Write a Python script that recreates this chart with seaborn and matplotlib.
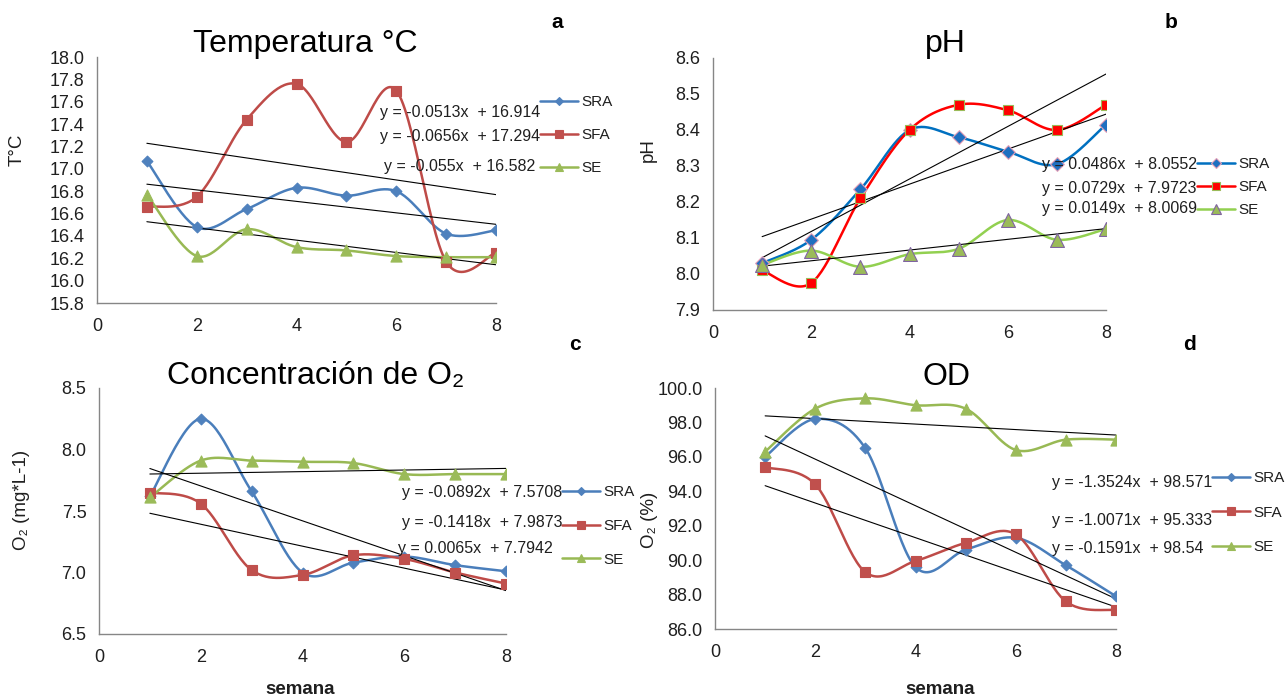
import numpy as np
import matplotlib
matplotlib.use("Agg")
import matplotlib.pyplot as plt
from matplotlib.lines import Line2D
from matplotlib.ticker import FormatStrFormatter
import seaborn as sns

# ---------------- data ----------------
semana = [1, 2, 3, 4, 5, 6, 7, 8]
series_names = ["SRA", "SFA", "SE"]

# Temperatura (°C)
temp_sra = [17.07, 16.48, 16.64, 16.83, 16.76, 16.80, 16.42, 16.45]
temp_sfa = [16.66, 16.75, 17.44, 17.76, 17.24, 17.70, 16.17, 16.25]
temp_se = [16.77, 16.22, 16.46, 16.30, 16.27, 16.22, 16.21, 16.21]
temp_slopes = [-0.0513, -0.0656, -0.055]
temp_intercepts = [16.914, 17.294, 16.582]

# pH
ph_sra = [8.03, 8.095, 8.235, 8.40, 8.38, 8.34, 8.305, 8.415]
ph_sfa = [8.01, 7.975, 8.21, 8.40, 8.47, 8.455, 8.40, 8.47]
ph_se = [8.025, 8.065, 8.02, 8.055, 8.07, 8.15, 8.095, 8.125]
ph_slopes = [0.0486, 0.0729, 0.0149]
ph_intercepts = [8.0552, 7.9723, 8.0069]

# Concentración de O2 (mg/L)
o2_sra = [7.62, 8.25, 7.66, 7.00, 7.08, 7.13, 7.06, 7.01]
o2_sfa = [7.65, 7.56, 7.02, 6.98, 7.14, 7.11, 7.00, 6.91]
o2_se = [7.61, 7.91, 7.91, 7.90, 7.89, 7.80, 7.80, 7.80]
o2_slopes = [-0.0892, -0.1418, 0.0065]
o2_intercepts = [7.5708, 7.9873, 7.7942]

# OD (%)
od_sra = [96.0, 98.2, 96.5, 89.6, 90.6, 91.3, 89.7, 87.9]
od_sfa = [95.4, 94.4, 89.3, 89.95, 91.0, 91.5, 87.6, 87.1]
od_se = [96.3, 98.8, 99.4, 99.0, 98.8, 96.4, 97.0, 97.0]
od_slopes = [-1.3524, -1.0071, -0.1591]
od_intercepts = [98.571, 95.333, 98.54]

# ---------------- style ----------------
sns.set_theme(style="white")
plt.rcParams["font.family"] = ["Liberation Sans", "DejaVu Sans"]

W, H = 1285, 696
TEXT = "#1f1f1f"
AXIS = "#868686"


def fx(px):
    return px / W


def fy(py):
    return 1 - py / H


def smooth(x, y, n=30):
    """Bezier smoothing through the points (Catmull-Rom control points)."""
    p = np.column_stack([x, y]).astype(float)
    k = len(p)
    t = np.linspace(0, 1, n)[:, None]
    segs = []
    for i in range(k - 1):
        p0 = p[max(i - 1, 0)]
        p1 = p[i]
        p2 = p[i + 1]
        p3 = p[min(i + 2, k - 1)]
        c1 = p1 + (p2 - p0) / 6.0
        c2 = p2 - (p3 - p1) / 6.0
        b = ((1 - t) ** 3) * p1 + 3 * ((1 - t) ** 2) * t * c1 + 3 * (1 - t) * t ** 2 * c2 + t ** 3 * p2
        segs.append(b if i == 0 else b[1:])
    out = np.vstack(segs)
    return out[:, 0], out[:, 1]


# colour / marker sets: (line, fill, edge, marker, size)
std_styles = [
    ("#4A7EBB", "#4F81BD", "#4F81BD", "D", 5.5),
    ("#BE4B48", "#C0504D", "#C0504D", "s", 7.5),
    ("#98B954", "#9BBB59", "#9BBB59", "^", 8.0),
]
ph_styles = [
    ("#0070C0", "#1F6FC0", "#E6A0B8", "D", 7.0),
    ("#FF0000", "#FF0000", "#9BBB59", "s", 7.5),
    ("#92D050", "#9BBB59", "#8064A2", "^", 10.0),
]

panels = [
    dict(box=(97, 496, 57, 303), ylim=(15.8, 18.0), ystep=0.2,
         data=[temp_sra, temp_sfa, temp_se], slopes=temp_slopes, icpts=temp_intercepts,
         styles=std_styles, title="Temperatura °C", title_pos=(305, 52),
         letter="a", letter_pos=(557, 23), ylabel="T°C", ylabel_pos=(17, 150),
         xlabel=None,
         eq_pos=[(540, 112), (540, 137), (535, 167)],
         leg_pos=(540, 95), leg_spacing=1.25),
    dict(box=(713, 1106, 58, 310), ylim=(7.9, 8.6), ystep=0.1,
         data=[ph_sra, ph_sfa, ph_se], slopes=ph_slopes, icpts=ph_intercepts,
         styles=ph_styles, title="pH", title_pos=(945, 52),
         letter="b", letter_pos=(1171, 22), ylabel="pH", ylabel_pos=(648, 150),
         xlabel=None,
         eq_pos=[(1197, 165), (1197, 188), (1197, 208)],
         leg_pos=(1197, 157), leg_spacing=0.6),
    dict(box=(99, 506, 388, 634), ylim=(6.5, 8.5), ystep=0.5,
         data=[o2_sra, o2_sfa, o2_se], slopes=o2_slopes, icpts=o2_intercepts,
         styles=std_styles, title="Concentración de O₂", title_pos=(316, 384),
         letter="c", letter_pos=(575, 345), ylabel="O₂ (mg*L-1)", ylabel_pos=(22, 500),
         xlabel="semana", xlabel_pos=(300, 694),
         eq_pos=[(562, 493), (562, 522), (553, 548)],
         leg_pos=(562, 485), leg_spacing=1.3),
    dict(box=(715, 1116, 388, 629), ylim=(86.0, 100.0), ystep=2.0,
         data=[od_sra, od_sfa, od_se], slopes=od_slopes, icpts=od_intercepts,
         styles=std_styles, title="OD", title_pos=(946, 385),
         letter="d", letter_pos=(1189, 345), ylabel="O₂ (%)", ylabel_pos=(649, 520),
         xlabel="semana", xlabel_pos=(940, 694),
         eq_pos=[(1212, 483), (1212, 520), (1203, 548)],
         leg_pos=(1212, 471), leg_spacing=1.35),
]

fig = plt.figure(figsize=(W / 100, H / 100), dpi=100)
fig.patch.set_facecolor("white")

for p in panels:
    l, r, t, b = p["box"]
    ax = fig.add_axes([fx(l), fy(b), (r - l) / W, (b - t) / H])
    ax.set_facecolor("white")

    x = np.asarray(semana, dtype=float)
    for vals, (lc, fc, ec, mk, ms) in zip(p["data"], p["styles"]):
        sx, sy = smooth(x, vals)
        sns.lineplot(x=sx, y=sy, sort=False, estimator=None, color=lc,
                     linewidth=1.8, ax=ax, legend=False, zorder=2)
        sns.scatterplot(x=x, y=vals, marker=mk, s=ms ** 2, color=fc,
                        edgecolor=ec, linewidth=0.8, ax=ax, legend=False, zorder=4)

    # linear trend lines from the fitted equations
    xe = np.array([semana[0], semana[-1]], dtype=float)
    for m, c in zip(p["slopes"], p["icpts"]):
        ax.plot(xe, m * xe + c, color="black", linewidth=0.8, zorder=3)

    y0, y1 = p["ylim"]
    ax.set_xlim(0, 8)
    ax.set_ylim(y0, y1)
    ax.set_xticks([0, 2, 4, 6, 8])
    ax.set_yticks(np.round(np.arange(y0, y1 + p["ystep"] / 2, p["ystep"]), 2))
    ax.yaxis.set_major_formatter(FormatStrFormatter("%.1f"))
    sns.despine(ax=ax)
    for s in ("left", "bottom"):
        ax.spines[s].set_color(AXIS)
        ax.spines[s].set_linewidth(1.0)
    ax.tick_params(axis="both", direction="out", length=5, width=1.0,
                   color=AXIS, labelsize=13, labelcolor=TEXT, pad=4)
    ax.tick_params(axis="x", pad=6)
    ax.grid(False)

    # equations of the trend lines
    for (ex, ey), m, c in zip(p["eq_pos"], p["slopes"], p["icpts"]):
        fig.text(fx(ex), fy(ey), f"y = {m:g}x  + {c:g}", ha="right", va="center",
                 fontsize=11.5, color=TEXT)

    handles = [Line2D([], [], color=lc, linewidth=1.8, marker=mk,
                      markersize=ms * 0.75, markerfacecolor=fc, markeredgecolor=ec,
                      markeredgewidth=0.8)
               for (lc, fc, ec, mk, ms) in p["styles"]]
    lx, ly = p["leg_pos"]
    ax.legend(handles, series_names, loc="upper left",
              bbox_to_anchor=(fx(lx), fy(ly)), bbox_transform=fig.transFigure,
              frameon=False, fontsize=11, handlelength=2.5, handletextpad=0.2,
              labelspacing=p["leg_spacing"], borderpad=0, borderaxespad=0,
              labelcolor=TEXT)

    tx, ty = p["title_pos"]
    fig.text(fx(tx), fy(ty), p["title"], ha="center", va="baseline",
             fontsize=23, color="black")
    lx, ly = p["letter_pos"]
    fig.text(fx(lx), fy(ly), p["letter"], ha="center", va="center",
             fontsize=15, fontweight="bold", color="black")
    yx, yy = p["ylabel_pos"]
    fig.text(fx(yx), fy(yy), p["ylabel"], ha="center", va="center",
             rotation=90, fontsize=13.5, color=TEXT)
    if p["xlabel"]:
        xx, xy = p["xlabel_pos"]
        fig.text(fx(xx), fy(xy), p["xlabel"], ha="center", va="baseline",
                 fontsize=13.5, fontweight="bold", color=TEXT)

fig.savefig("out.png", dpi=100, facecolor="white")
